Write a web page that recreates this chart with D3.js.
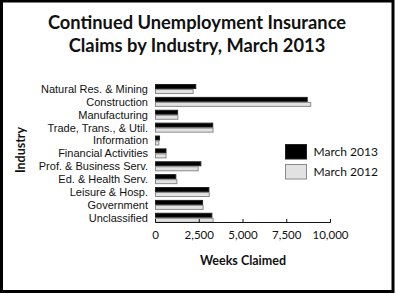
<!DOCTYPE html>
<html>
<head>
<meta charset="utf-8">
<script src="https://cdn.jsdelivr.net/npm/d3@7"></script>
<style>
  html, body { margin: 0; padding: 0; background: #fff; }
  svg { display: block; font-family: Lato, "Open Sans", sans-serif; }
</style>
</head>
<body>
<svg id="chart" width="396" height="294"></svg>
<script>
// Continued UI claims (weeks claimed) by industry
const industries = [
  "Natural Res. & Mining", "Construction", "Manufacturing", "Trade, Trans., & Util.",
  "Information", "Financial Activities", "Prof. & Business Serv.", "Ed. & Health Serv.",
  "Leisure & Hosp.", "Government", "Unclassified"
];
const march2013 = [2300, 8670, 1260, 3270, 230, 600, 2590, 1160, 3050, 2690, 3220];
const march2012 = [2150, 8870, 1280, 3290, 190, 600, 2440, 1220, 3070, 2720, 3290];
const seriesNames = ["March 2013", "March 2012"];
const xTicks = [0, 2500, 5000, 7500, 10000];

const svg = d3.select("#chart");

// outer frame
svg.append("rect")
  .attr("x", 1.5).attr("y", 1).attr("width", 391.5).attr("height", 290.5)
  .attr("fill", "none").attr("stroke", "#000").attr("stroke-width", 3);

// title
const title = svg.append("text")
  .attr("text-anchor", "middle")
  .attr("font-weight", "bold")
  .attr("font-size", 18.3)
  .attr("fill", "#111");
title.append("tspan").attr("x", 197).attr("y", 29).text("Continued Unemployment Insurance");
title.append("tspan").attr("x", 197).attr("y", 52).text("Claims by Industry, March 2013");

const x = d3.scaleLinear().domain([0, 10000]).range([155, 330]);
const y = d3.scaleBand().domain(industries).range([82.6, 224.2]).paddingInner(0.223).paddingOuter(0.11);
const sub = d3.scaleBand().domain(seriesNames).range([0, y.bandwidth()]);

const series = [
  { name: seriesNames[0], values: march2013, fill: "#000", stroke: "#222" },
  { name: seriesNames[1], values: march2012, fill: "#e2e2e2", stroke: "#8a8a8a" }
];

series.forEach(s => {
  svg.append("g").selectAll("rect")
    .data(industries.map((c, i) => ({ c, v: s.values[i] })))
    .join("rect")
    .attr("x", x(0) + 0.5)
    .attr("y", d => y(d.c) + sub(s.name) + 0.5)
    .attr("width", d => x(d.v) - x(0))
    .attr("height", sub.bandwidth() - 1)
    .attr("fill", s.fill)
    .attr("stroke", s.stroke)
    .attr("stroke-width", 1);
});

// category labels
svg.append("g").selectAll("text")
  .data(industries)
  .join("text")
  .attr("x", 148)
  .attr("y", d => y(d) + y.bandwidth() / 2)
  .attr("dy", "0.36em")
  .attr("text-anchor", "end")
  .attr("font-family", "'Liberation Sans', Arial, sans-serif")
  .attr("font-size", 11)
  .attr("fill", "#111")
  .text(d => d);

// x axis with inward ticks
const axisY = 222;
const xAxis = svg.append("g")
  .attr("transform", `translate(0,${axisY})`)
  .call(d3.axisBottom(x).tickValues(xTicks).tickSizeInner(-3).tickSizeOuter(-3)
    .tickFormat(d3.format(",")));
xAxis.select(".domain").attr("stroke", "#111");
xAxis.selectAll(".tick line").attr("stroke", "#111");
xAxis.selectAll(".tick text")
  .attr("y", 9).attr("dy", "0.71em")
  .attr("font-family", "Lato, 'Open Sans', sans-serif")
  .attr("font-size", 11.5).attr("fill", "#111");

// axis titles
svg.append("text")
  .attr("x", 243).attr("y", 265)
  .attr("text-anchor", "middle").attr("font-weight", "bold")
  .attr("font-size", 12.5).attr("fill", "#111")
  .text("Weeks Claimed");

svg.append("text")
  .attr("transform", "translate(25,150) rotate(-90)")
  .attr("text-anchor", "middle").attr("font-weight", "bold")
  .attr("font-size", 12.5).attr("fill", "#111")
  .text("Industry");

// legend
const legend = svg.append("g").selectAll("g")
  .data(series)
  .join("g")
  .attr("transform", (d, i) => `translate(285.5,${144.5 + i * 20})`);
legend.append("rect")
  .attr("width", 21).attr("height", 14.5)
  .attr("fill", d => d.fill).attr("stroke", d => d.stroke);
legend.append("text")
  .attr("x", 28).attr("y", 7.5).attr("dy", "0.35em")
  .attr("font-size", 12).attr("fill", "#111")
  .text(d => d.name);
</script>
</body>
</html>
